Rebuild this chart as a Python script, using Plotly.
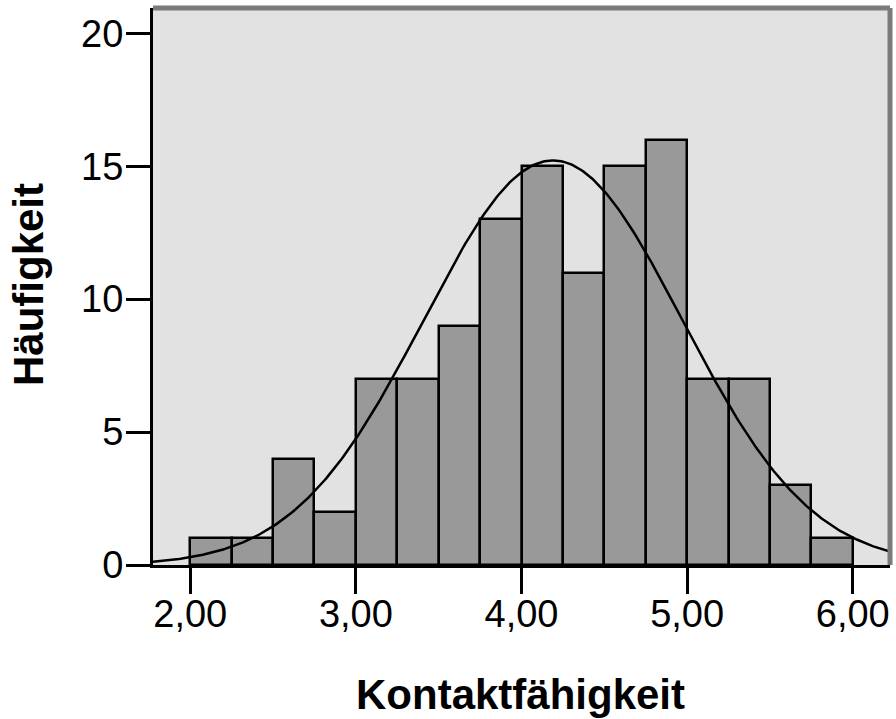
import numpy as np
import plotly.graph_objects as go

# Histogram data (bins of width 0.25 from 2.00 to 6.00)
bin_starts = [2.00, 2.25, 2.50, 2.75, 3.00, 3.25, 3.50, 3.75,
              4.00, 4.25, 4.50, 4.75, 5.00, 5.25, 5.50, 5.75]
counts = [1, 1, 4, 2, 7, 7, 9, 13, 15, 11, 15, 16, 7, 7, 3, 1]
bin_width = 0.25

# Normal curve parameters
curve_mean = 4.19
curve_sd = 0.78
n_total = sum(counts)

x_ticks = [2, 3, 4, 5, 6]
x_tick_labels = ["2,00", "3,00", "4,00", "5,00", "6,00"]
y_ticks = [0, 5, 10, 15, 20]
y_tick_labels = ["0", "5", "10", "15", "20"]

x_title = "Kontaktfähigkeit"
y_title = "Häufigkeit"

x_range = [1.775, 6.225]
y_range = [0, 20.95]

centers = [s + bin_width / 2 for s in bin_starts]

xc = np.linspace(x_range[0], x_range[1], 400)
yc = n_total * bin_width / (curve_sd * np.sqrt(2 * np.pi)) * np.exp(-0.5 * ((xc - curve_mean) / curve_sd) ** 2)

W, H = 896, 719
ML, MR, MT, MB = 153, 6, 8, 154
PW, PH = W - ML - MR, H - MT - MB

fig = go.Figure()
fig.add_trace(go.Bar(
    x=centers, y=counts, width=bin_width,
    marker=dict(color="#999999", line=dict(color="#000000", width=2.5)),
    hoverinfo="skip", showlegend=False,
))
fig.add_trace(go.Scatter(
    x=xc, y=yc, mode="lines",
    line=dict(color="#000000", width=2.5),
    hoverinfo="skip", showlegend=False,
))

tick_font = dict(family="Liberation Sans, Arial, sans-serif", size=38, color="#000000")
title_font = dict(family="Liberation Sans, Arial, sans-serif", size=42, color="#000000")

fig.update_layout(
    width=W, height=H,
    margin=dict(l=ML, r=MR, t=MT, b=MB),
    paper_bgcolor="#FFFFFF",
    plot_bgcolor="#E2E2E2",
    bargap=0,
    xaxis=dict(
        range=x_range, tickmode="array", tickvals=x_ticks, ticktext=x_tick_labels,
        ticks="outside", ticklen=26, tickwidth=3, tickcolor="#000000",
        showline=True, linecolor="#000000", linewidth=3,
        showgrid=False, zeroline=False, tickfont=tick_font,
        ticklabelstandoff=-13,
    ),
    yaxis=dict(
        range=y_range, tickmode="array", tickvals=y_ticks, ticktext=y_tick_labels,
        ticks="outside", ticklen=24, tickwidth=3, tickcolor="#000000",
        showline=True, linecolor="#000000", linewidth=3,
        showgrid=False, zeroline=False, tickfont=tick_font,
        ticklabelstandoff=-5,
    ),
    annotations=[
        dict(text="<b>%s</b>" % x_title, xref="paper", yref="paper",
             x=(520 - ML) / PW, y=(H - MB - 694) / PH,
             xanchor="center", yanchor="middle", showarrow=False, font=title_font),
        dict(text="<b>%s</b>" % y_title, xref="paper", yref="paper",
             x=(28 - ML) / PW, y=(H - MB - 285) / PH, textangle=-90,
             xanchor="center", yanchor="middle", showarrow=False, font=title_font),
    ],
    shapes=[
        dict(type="line", xref="paper", yref="paper", x0=0, x1=1, y0=1, y1=1,
             line=dict(color="#7A7A7A", width=5)),
        dict(type="line", xref="paper", yref="paper", x0=1, x1=1, y0=0, y1=1,
             line=dict(color="#7A7A7A", width=5)),
    ],
)

fig.write_html(
    "out.html",
    config={"displayModeBar": False},
    post_script="document.body.style.margin='0';document.body.style.overflow='hidden';"
                "document.documentElement.style.overflow='hidden';",
)
